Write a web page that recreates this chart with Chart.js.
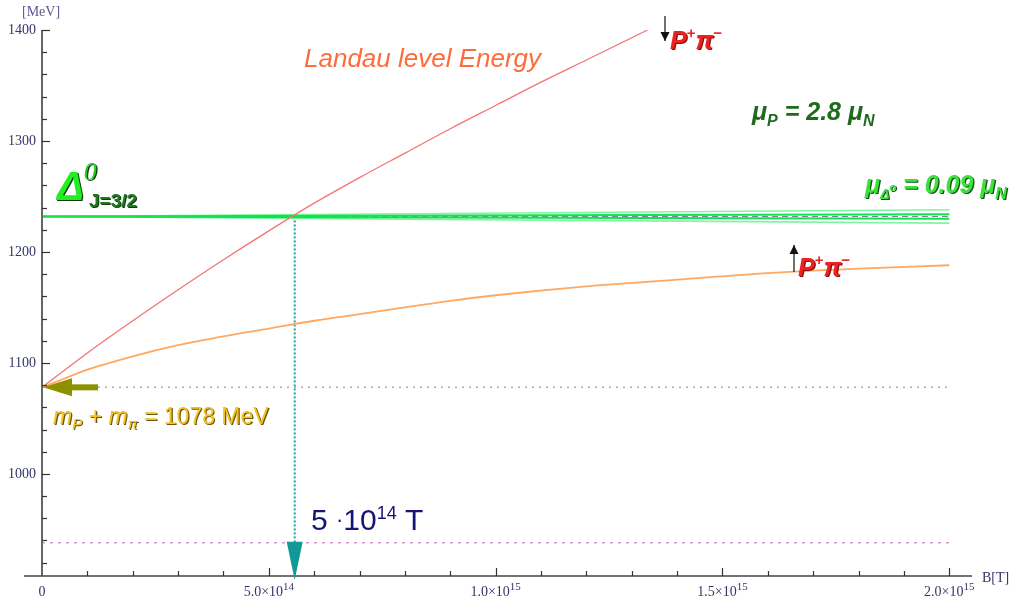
<!DOCTYPE html>
<html>
<head>
<meta charset="utf-8">
<script src="https://cdn.jsdelivr.net/npm/chart.js@4.4.1/dist/chart.umd.min.js"></script>
<style>
  html, body { margin: 0; padding: 0; background: #fff; }
  #wrap { width: 1023px; height: 601px; }
</style>
</head>
<body>
<div id="wrap"><canvas id="chart" width="1023" height="601"></canvas></div>
<script>
// values (B in tesla, energy in MeV)
const bRed = [0, 1e14, 2e14, 3e14, 4e14, 5e14, 6e14, 7e14, 8e14, 9e14, 10e14, 11e14, 12e14, 13.35e14];
const eRed = [1078, 1109, 1138, 1166, 1193, 1219, 1244, 1267, 1289, 1311, 1332, 1353, 1373, 1400];

const bOrange = [0, 0.5e14, 1e14, 2e14, 3e14, 4e14, 5e14, 6e14, 7e14, 8e14, 9e14, 10e14, 12e14, 14e14, 16e14, 18e14, 20e14];
const eOrange = [1078, 1086, 1094, 1106, 1116, 1124, 1131, 1138, 1144, 1150, 1156, 1161, 1169, 1175, 1181, 1185, 1188];

const bDelta = [0, 2e15];
const eDeltaOuterUp = [1232, 1238];
const eDeltaInnerUp = [1232, 1234];
const eDeltaInnerDown = [1232, 1230];
const eDeltaOuterDown = [1232, 1226];

const deltaMass = 1232;
const thresholdMass = 1078;
const protonMass = 938;
const crossB = 5.57e14;

const xMin = 0, xMax = 2.05e15;
const yMin = 908, yMax = 1400;
const xTicks = [0, 5e14, 1e15, 1.5e15, 2e15];
const xTickLabels = ['0', '5.0×10^14', '1.0×10^15', '1.5×10^15', '2.0×10^15'];
const yTicks = [1000, 1100, 1200, 1300, 1400];
const yTickLabels = ['1000', '1100', '1200', '1300', '1400'];

function pts(xs, ys) {
  return xs.map((v, i) => ({x: v, y: ys[i]}));
}

// draw a row of text pieces (for sub/superscripts)
function rich(ctx, parts, x, y, align) {
  let w = 0;
  parts.forEach(p => {
    ctx.font = p.f;
    p.w = ctx.measureText(p.t).width;
    w += p.w;
  });
  let cx = align === 'center' ? x - w / 2 : (align === 'right' ? x - w : x);
  parts.forEach(p => {
    ctx.font = p.f;
    const yy = y + (p.dy || 0);
    if (p.sh) {
      ctx.fillStyle = p.sh;
      ctx.fillText(p.t, cx + 1.2, yy + 1.2);
    }
    ctx.fillStyle = p.c;
    ctx.fillText(p.t, cx, yy);
    cx += p.w;
  });
}

const sans = '"Liberation Sans", Arial, sans-serif';
const serif = '"Liberation Serif", "DejaVu Serif", serif';

const overlay = {
  id: 'overlay',
  afterDraw(chart) {
    const ctx = chart.ctx;
    const x = chart.scales.x, y = chart.scales.y;
    const x0 = x.getPixelForValue(0);
    const yb = y.getPixelForValue(yMin);
    ctx.save();
    ctx.textBaseline = 'alphabetic';

    // axes
    ctx.strokeStyle = '#666';
    ctx.lineWidth = 2;
    ctx.beginPath();
    ctx.moveTo(x0, y.getPixelForValue(yMax));
    ctx.lineTo(x0, yb);
    ctx.stroke();
    ctx.strokeStyle = '#444';
    ctx.lineWidth = 1.5;
    ctx.beginPath();
    ctx.moveTo(x0 - 18, yb);
    ctx.lineTo(x.getPixelForValue(xMax), yb);
    ctx.stroke();

    // tick marks
    ctx.lineWidth = 1.2;
    ctx.strokeStyle = '#333';
    for (let v = 920; v <= yMax; v += 20) {
      const py = Math.round(y.getPixelForValue(v)) + 0.5;
      const len = v % 100 === 0 ? 8 : 5;
      ctx.beginPath();
      ctx.moveTo(x0, py);
      ctx.lineTo(x0 + len, py);
      ctx.stroke();
    }
    for (let v = 1e14; v <= 2e15 + 1; v += 1e14) {
      const px = Math.round(x.getPixelForValue(v)) + 0.5;
      const len = Math.round(v / 1e14) % 5 === 0 ? 8 : 5;
      ctx.beginPath();
      ctx.moveTo(px, yb);
      ctx.lineTo(px, yb - len);
      ctx.stroke();
    }

    // tick labels
    ctx.fillStyle = '#35356b';
    ctx.font = '14px ' + serif;
    ctx.textAlign = 'right';
    yTicks.forEach((v, i) => {
      ctx.fillText(yTickLabels[i], x0 - 6, y.getPixelForValue(v) + 4);
    });
    ctx.textAlign = 'left';
    xTicks.forEach((v, i) => {
      const s = xTickLabels[i].split('^');
      const parts = [{t: s[0], f: '14px ' + serif, c: '#35356b'}];
      if (s[1]) parts.push({t: s[1], f: '11px ' + serif, c: '#35356b', dy: -6});
      rich(ctx, parts, x.getPixelForValue(v), yb + 20, 'center');
    });
    ctx.fillStyle = '#5a5a90';
    ctx.font = '14px ' + serif;
    ctx.fillText('[MeV]', 22, 16);
    ctx.fillStyle = '#35356b';
    ctx.font = '14px ' + serif;
    ctx.fillText('B[T]', 982, yb + 6);

    // teal arrow head at the crossing field
    const cx = x.getPixelForValue(crossB);
    ctx.fillStyle = '#119a95';
    ctx.beginPath();
    ctx.moveTo(cx - 8, y.getPixelForValue(protonMass) - 1);
    ctx.lineTo(cx + 8, y.getPixelForValue(protonMass) - 1);
    ctx.lineTo(cx, yb + 4);
    ctx.closePath();
    ctx.fill();

    // olive arrow pointing at the threshold
    const ty = y.getPixelForValue(thresholdMass);
    ctx.fillStyle = '#8d9100';
    ctx.fillRect(x0 + 26, ty - 3, 30, 6);
    ctx.beginPath();
    ctx.moveTo(x0 + 1, ty);
    ctx.lineTo(x0 + 30, ty - 9);
    ctx.lineTo(x0 + 30, ty + 9);
    ctx.closePath();
    ctx.fill();

    // small black arrows next to P+pi- labels
    function spinArrow(ax, y1, y2) {
      ctx.strokeStyle = '#111';
      ctx.fillStyle = '#111';
      ctx.lineWidth = 1.2;
      ctx.beginPath();
      ctx.moveTo(ax, y1);
      ctx.lineTo(ax, y2);
      ctx.stroke();
      const d = y2 > y1 ? 1 : -1;
      ctx.beginPath();
      ctx.moveTo(ax - 4.5, y2 - d * 9);
      ctx.lineTo(ax + 4.5, y2 - d * 9);
      ctx.lineTo(ax, y2);
      ctx.closePath();
      ctx.fill();
    }
    spinArrow(665, 16, 41);
    spinArrow(794, 272, 245);

    // annotations
    const red = '#ee2020';
    const ppi = (px, py) => rich(ctx, [
      {t: 'P', f: 'italic bold 25px ' + sans, c: red, sh: '#8a1010'},
      {t: '+', f: 'bold 15px ' + sans, c: red, dy: -11},
      {t: 'π', f: 'italic bold 25px ' + sans, c: red, sh: '#8a1010'},
      {t: '−', f: 'bold 15px ' + sans, c: red, dy: -11}
    ], px, py, 'left');
    ppi(670, 49);
    ppi(798, 276);

    ctx.font = 'italic 26px ' + sans;
    ctx.fillStyle = '#ff6b3b';
    ctx.fillText('Landau level Energy', 304, 67);

    const dg = '#1d6b1d';
    rich(ctx, [
      {t: 'μ', f: 'italic bold 25px ' + sans, c: dg},
      {t: 'P', f: 'italic bold 16px ' + sans, c: dg, dy: 6},
      {t: ' = 2.8 ', f: 'italic bold 25px ' + sans, c: dg},
      {t: 'μ', f: 'italic bold 25px ' + sans, c: dg},
      {t: 'N', f: 'italic bold 16px ' + sans, c: dg, dy: 6}
    ], 752, 120, 'left');

    const bg = '#3ee03e';
    rich(ctx, [
      {t: 'μ', f: 'italic bold 25px ' + sans, c: bg, sh: '#145214'},
      {t: 'Δ', f: 'italic bold 14px ' + sans, c: bg, sh: '#145214', dy: 6},
      {t: 'o', f: 'italic bold 11px ' + sans, c: bg, sh: '#145214', dy: -2},
      {t: ' = 0.09 ', f: 'italic bold 25px ' + sans, c: bg, sh: '#145214'},
      {t: 'μ', f: 'italic bold 25px ' + sans, c: bg, sh: '#145214'},
      {t: 'N', f: 'italic bold 16px ' + sans, c: bg, sh: '#145214', dy: 6}
    ], 865, 193, 'left');

    rich(ctx, [
      {t: 'Δ', f: 'italic bold 40px ' + sans, c: '#22ee22', sh: '#0a3a0a'},
      {t: '0', f: 'italic 26px ' + serif, c: '#22cc22', sh: '#0a3a0a', dy: -20}
    ], 57, 200, 'left');
    ctx.font = 'bold 19px ' + sans;
    ctx.fillStyle = '#0d3d0d';
    ctx.fillText('J=3/2', 90, 208);
    ctx.fillStyle = '#1f7a1f';
    ctx.fillText('J=3/2', 89, 207);

    const gold = '#f6c21c';
    rich(ctx, [
      {t: 'm', f: 'italic 23px ' + sans, c: gold, sh: '#6a5610'},
      {t: 'P', f: 'italic 15px ' + sans, c: gold, sh: '#6a5610', dy: 5},
      {t: ' + ', f: '23px ' + sans, c: gold, sh: '#6a5610'},
      {t: 'm', f: 'italic 23px ' + sans, c: gold, sh: '#6a5610'},
      {t: 'π', f: 'italic 15px ' + sans, c: gold, sh: '#6a5610', dy: 5},
      {t: ' = 1078 MeV', f: '23px ' + sans, c: gold, sh: '#6a5610'}
    ], 53, 424, 'left');

    const navy = '#14147a';
    rich(ctx, [
      {t: '5 ', f: '30px ' + sans, c: navy},
      {t: '·', f: '22px ' + sans, c: navy, dy: -3},
      {t: '10', f: '30px ' + sans, c: navy},
      {t: '14', f: '18px ' + sans, c: navy, dy: -11},
      {t: ' T', f: '30px ' + sans, c: navy}
    ], 311, 530, 'left');

    ctx.restore();
  }
};

const line = (data, color, width, extra) => Object.assign({
  data: data,
  showLine: true,
  borderColor: color,
  borderWidth: width,
  pointRadius: 0,
  fill: false
}, extra || {});

new Chart(document.getElementById('chart'), {
  type: 'scatter',
  data: {
    datasets: [
      line(pts(bRed, eRed), '#f27575', 1.3, {cubicInterpolationMode: 'monotone'}),
      line(pts(bOrange, eOrange), '#ffa862', 1.8, {cubicInterpolationMode: 'monotone'}),
      line(pts(bDelta, eDeltaInnerUp), '#12e24e', 2),
      line(pts(bDelta, eDeltaInnerDown), '#12e24e', 2),
      line(pts(bDelta, eDeltaOuterUp), '#7cf8a2', 1.6),
      line(pts(bDelta, eDeltaOuterDown), '#7cf8a2', 1.6),
      line(pts(bDelta, [deltaMass, deltaMass]), '#7878a0', 1, {borderDash: [6, 4]}),
      line(pts([crossB, crossB], [deltaMass, protonMass]), '#1aa3a3', 2, {borderDash: [2, 2]}),
      line(pts(bDelta, [thresholdMass, thresholdMass]), '#c9a27e', 1.5, {borderDash: [2, 5]}),
      line(pts(bDelta, [protonMass, protonMass]), '#d797cf', 1.5, {borderDash: [3, 5]})
    ]
  },
  options: {
    responsive: false,
    animation: false,
    layout: {autoPadding: false, padding: {left: 42, right: 51, top: 30, bottom: 25}},
    plugins: {legend: {display: false}, tooltip: {enabled: false}, title: {display: false}},
    scales: {
      x: {type: 'linear', min: xMin, max: xMax, display: false},
      y: {type: 'linear', min: yMin, max: yMax, display: false}
    }
  },
  plugins: [overlay]
});
</script>
</body>
</html>
